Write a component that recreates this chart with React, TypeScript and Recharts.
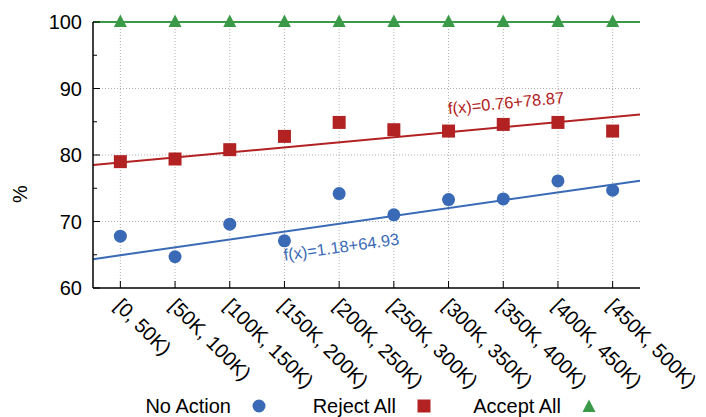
import React from 'react';
import { ScatterChart, Scatter, XAxis, YAxis, ReferenceLine, ReferenceDot, Legend } from 'recharts';

// Transaction value buckets on the x axis
const CATEGORIES = [
  '[0, 50K)', '[50K, 100K)', '[100K, 150K)', '[150K, 200K)', '[200K, 250K)',
  '[250K, 300K)', '[300K, 350K)', '[350K, 400K)', '[400K, 450K)', '[450K, 500K)',
];

// Percentages per bucket
const NO_ACTION = [67.8, 64.7, 69.6, 67.1, 74.2, 71.0, 73.3, 73.4, 76.1, 74.7];
const REJECT_ALL = [79.0, 79.4, 80.8, 82.8, 84.9, 83.8, 83.6, 84.6, 84.9, 83.6];
const ACCEPT_ALL = [100, 100, 100, 100, 100, 100, 100, 100, 100, 100];

// Linear fits f(x) = slope * x + intercept, x = bucket index
const NO_ACTION_FIT = { slope: 1.18, intercept: 64.93 };
const REJECT_ALL_FIT = { slope: 0.76, intercept: 78.87 };
const ACCEPT_ALL_FIT = { slope: 0, intercept: 100 };

const Y_TICKS = [60, 65, 70, 75, 80, 85, 90, 95, 100];
const Y_GRID = [70, 80, 90];

const BLUE = '#3a6ab6';
const RED = '#b22222';
const GREEN = '#3a9a48';
const FONT = "'Liberation Sans', Arial, sans-serif";

const X_MIN = -0.5;
const X_MAX = CATEGORIES.length - 0.5;

const toPoints = (values: number[]) => values.map((y, i) => ({ x: i, y }));
const fitAt = (fit: { slope: number; intercept: number }, x: number) => fit.intercept + fit.slope * x;
const fitSegment = (fit: { slope: number; intercept: number }) => [
  { x: X_MIN, y: fitAt(fit, X_MIN) },
  { x: X_MAX, y: fitAt(fit, X_MAX) },
];
const fitLabel = (fit: { slope: number; intercept: number }) => `f(x)=${fit.slope}+${fit.intercept}`;

const circleShape = (p: any) => <circle cx={p.cx} cy={p.cy} r={6.5} fill={BLUE} />;
const squareShape = (p: any) => <rect x={p.cx - 6.5} y={p.cy - 6.5} width={13} height={13} fill={RED} />;
const triangleShape = (p: any) => (
  <polygon points={`${p.cx - 6.5},${p.cy + 5} ${p.cx + 6.5},${p.cy + 5} ${p.cx},${p.cy - 7.5}`} fill={GREEN} />
);

const XTick = (props: any) => {
  const { x, y, payload } = props;
  const tx = x - 7;
  const ty = y + 19;
  return (
    <g>
      <line x1={x} x2={x} y1={y} y2={y - 7} stroke="#000" strokeWidth={1} />
      <text x={tx} y={ty} transform={`rotate(45, ${tx}, ${ty})`} textAnchor="start" fontSize={20} fontFamily={FONT} fill="#000">
        {CATEGORIES[payload.value]}
      </text>
    </g>
  );
};

const LeftYTick = (props: any) => {
  const { x, y, payload } = props;
  const major = payload.value % 10 === 0;
  const axisX = x + 11;
  return (
    <g>
      <line x1={axisX} x2={axisX + (major ? 7 : 4)} y1={y} y2={y} stroke="#000" strokeWidth={1} />
      {major && (
        <text x={x} y={y} dy="0.35em" textAnchor="end" fontSize={20} fontFamily={FONT} fill="#000">
          {payload.value}
        </text>
      )}
    </g>
  );
};

const RightYTick = (props: any) => {
  const { x, y, payload } = props;
  const major = payload.value % 10 === 0;
  return <line x1={x} x2={x - (major ? 7 : 4)} y1={y} y2={y} stroke="#000" strokeWidth={1} />;
};

const YLabel = (props: any) => {
  const { viewBox } = props;
  const cx = viewBox.x + 20;
  const cy = viewBox.y + viewBox.height / 2 + 39;
  return (
    <text x={cx} y={cy} dy="0.35em" transform={`rotate(-90, ${cx}, ${cy})`} textAnchor="middle" fontSize={20} fontFamily={FONT} fill="#000">
      %
    </text>
  );
};

const fitText = (text: string, color: string, dy: number, angle: number) => (p: any) => {
  const tx = p.cx;
  const ty = p.cy + dy;
  return (
    <text x={tx} y={ty} transform={`rotate(${angle}, ${tx}, ${ty})`} fontSize={16.5} fontFamily={FONT} fill={color}>
      {text}
    </text>
  );
};

const LEGEND_ITEMS = [
  { name: 'No Action', color: BLUE, kind: 'circle' },
  { name: 'Reject All', color: RED, kind: 'square' },
  { name: 'Accept All', color: GREEN, kind: 'triangle' },
];

const LegendContent = () => (
  <svg width={706} height={28} style={{ display: 'block', overflow: 'visible' }}>
    {LEGEND_ITEMS.map((item, i) => {
      const textEnd = 231 + i * 165;
      const sx = textEnd + 28;
      const sy = 17;
      return (
        <g key={item.name}>
          <text x={textEnd} y={sy} dy="0.35em" textAnchor="end" fontSize={20} fontFamily={FONT} fill="#000">
            {item.name}
          </text>
          {item.kind === 'circle' && circleShape({ cx: sx, cy: sy })}
          {item.kind === 'square' && squareShape({ cx: sx, cy: sy })}
          {item.kind === 'triangle' && triangleShape({ cx: sx, cy: sy + 1 })}
        </g>
      );
    })}
  </svg>
);

export default function App() {
  return (
    <div style={{ position: 'absolute', left: 0, top: 0, background: '#fff' }}>
      <ScatterChart width={706} height={417} margin={{ top: 22, right: 66, bottom: 0, left: 0 }}>
        <XAxis
          type="number"
          dataKey="x"
          domain={[X_MIN, X_MAX]}
          ticks={CATEGORIES.map((_, i) => i)}
          interval={0}
          height={101}
          tickSize={0}
          tickMargin={0}
          tick={<XTick />}
          axisLine={{ stroke: '#000', strokeWidth: 1.5 }}
          tickLine={false}
        />
        <YAxis
          yAxisId="left"
          type="number"
          dataKey="y"
          domain={[60, 100]}
          ticks={Y_TICKS}
          interval={0}
          width={93}
          tickSize={0}
          tickMargin={11}
          tick={<LeftYTick />}
          tickLine={false}
          axisLine={{ stroke: '#000', strokeWidth: 1.5 }}
          label={<YLabel />}
        />
        <YAxis
          yAxisId="right"
          orientation="right"
          type="number"
          domain={[60, 100]}
          ticks={Y_TICKS}
          interval={0}
          width={0}
          tickSize={0}
          tickMargin={0}
          tick={<RightYTick />}
          tickLine={false}
          axisLine={{ stroke: '#000', strokeWidth: 1.5 }}
        />

        {Y_GRID.map((v) => (
          <ReferenceLine key={`h${v}`} yAxisId="left" y={v} stroke="#b0b0b0" strokeDasharray="1 2" />
        ))}
        {CATEGORIES.map((_, i) => (
          <ReferenceLine key={`v${i}`} yAxisId="left" x={i} stroke="#b0b0b0" strokeDasharray="1 2" />
        ))}
        <ReferenceLine yAxisId="left" y={100} stroke="#000" strokeWidth={1.5} />

        <ReferenceLine yAxisId="left" segment={fitSegment(NO_ACTION_FIT)} stroke={BLUE} strokeWidth={2} />
        <ReferenceLine yAxisId="left" segment={fitSegment(REJECT_ALL_FIT)} stroke={RED} strokeWidth={2} />
        <ReferenceLine yAxisId="left" segment={fitSegment(ACCEPT_ALL_FIT)} stroke={GREEN} strokeWidth={2} />

        <Scatter name="No Action" yAxisId="left" data={toPoints(NO_ACTION)} shape={circleShape} isAnimationActive={false} />
        <Scatter name="Reject All" yAxisId="left" data={toPoints(REJECT_ALL)} shape={squareShape} isAnimationActive={false} />
        <Scatter name="Accept All" yAxisId="left" data={toPoints(ACCEPT_ALL)} shape={triangleShape} isAnimationActive={false} />

        <ReferenceDot
          yAxisId="left"
          x={6}
          y={fitAt(REJECT_ALL_FIT, 6)}
          r={0}
          shape={fitText(fitLabel(REJECT_ALL_FIT), RED, -18, -5.5)}
        />
        <ReferenceDot
          yAxisId="left"
          x={3}
          y={fitAt(NO_ACTION_FIT, 3)}
          r={0}
          shape={fitText(fitLabel(NO_ACTION_FIT), BLUE, 29, -8)}
        />

        <Legend verticalAlign="bottom" height={28} content={<LegendContent />} />
      </ScatterChart>
    </div>
  );
}
